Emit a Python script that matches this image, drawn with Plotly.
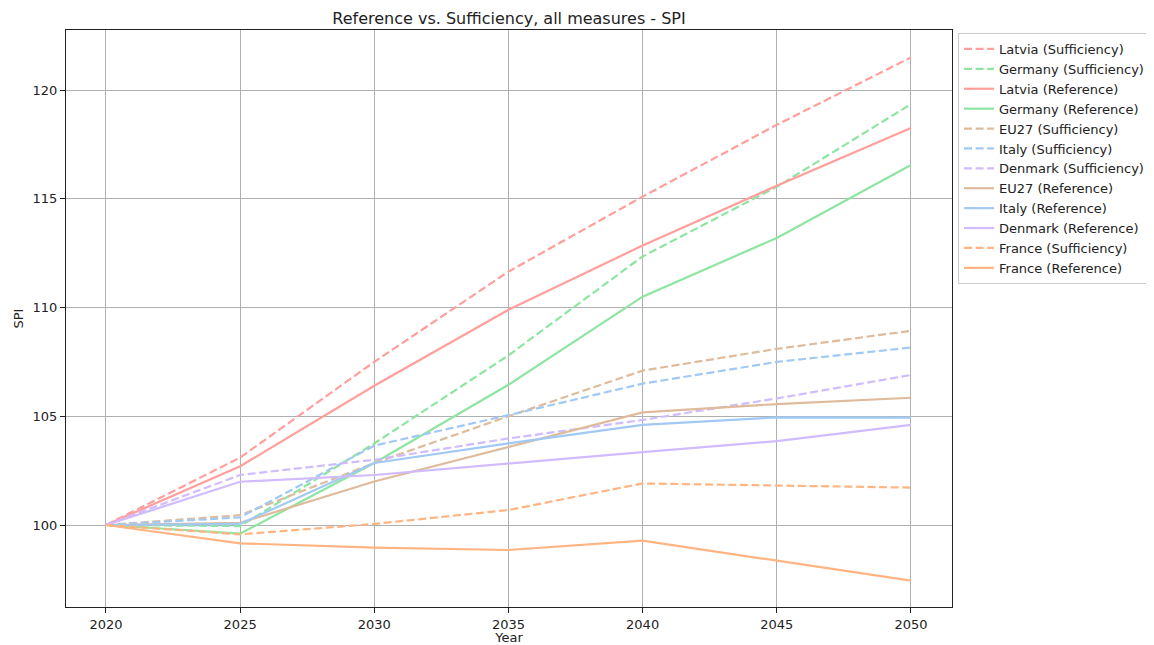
import plotly.graph_objects as go

years = [2020, 2025, 2030, 2035, 2040, 2045, 2050]

latvia_suff = [100, 103.1, 107.5, 111.65, 115.1, 118.4, 121.5]
germany_suff = [100, 99.95, 103.75, 107.8, 112.35, 115.55, 119.35]
latvia_ref = [100, 102.7, 106.4, 109.9, 112.85, 115.6, 118.25]
germany_ref = [100, 99.6, 102.85, 106.45, 110.5, 113.2, 116.55]
eu27_suff = [100, 100.45, 102.85, 105.0, 107.1, 108.1, 108.93]
italy_suff = [100, 100.35, 103.65, 105.05, 106.5, 107.5, 108.16]
denmark_suff = [100, 102.3, 103.0, 103.98, 104.83, 105.82, 106.9]
eu27_ref = [100, 100.1, 102.0, 103.6, 105.18, 105.56, 105.85]
italy_ref = [100, 100.05, 102.85, 103.75, 104.6, 104.95, 104.94]
denmark_ref = [100, 101.99, 102.3, 102.84, 103.35, 103.86, 104.6]
france_suff = [100, 99.57, 100.05, 100.69, 101.91, 101.81, 101.72]
france_ref = [100, 99.16, 98.96, 98.85, 99.28, 98.35, 97.44]

series = [
    ("Latvia (Sufficiency)", latvia_suff, "#ff9f9b", True),
    ("Germany (Sufficiency)", germany_suff, "#8de5a1", True),
    ("Latvia (Reference)", latvia_ref, "#ff9f9b", False),
    ("Germany (Reference)", germany_ref, "#8de5a1", False),
    ("EU27 (Sufficiency)", eu27_suff, "#debb9b", True),
    ("Italy (Sufficiency)", italy_suff, "#a1c9f4", True),
    ("Denmark (Sufficiency)", denmark_suff, "#d0bbff", True),
    ("EU27 (Reference)", eu27_ref, "#debb9b", False),
    ("Italy (Reference)", italy_ref, "#a1c9f4", False),
    ("Denmark (Reference)", denmark_ref, "#d0bbff", False),
    ("France (Sufficiency)", france_suff, "#ffb482", True),
    ("France (Reference)", france_ref, "#ffb482", False),
]

fig = go.Figure()
for name, vals, color, dashed in series:
    fig.add_trace(go.Scatter(
        x=years, y=vals, name=name, mode="lines",
        line=dict(color=color, width=2.2, dash="8px,3.6px" if dashed else "solid"),
    ))

axis_common = dict(
    showline=True, linecolor="#222", linewidth=1, mirror=True,
    ticks="outside", ticklen=5, tickcolor="#222",
    showgrid=True, gridcolor="#b0b0b0", gridwidth=1,
    zeroline=False, tickfont=dict(size=13, color="#222"), automargin=False,
)

W, H = 1146, 637
L, R, T, B = 58, 944, 22, 599

fig.update_layout(
    width=W, height=H,
    paper_bgcolor="white", plot_bgcolor="white",
    font=dict(family="DejaVu Sans", size=13, color="#222"),
    title=dict(text="Reference vs. Sufficiency, all measures - SPI",
               x=(L + R) / 2 / W, xanchor="center", y=1 - 10 / H, yanchor="middle",
               font=dict(size=16)),
    margin=dict(l=L, r=W - R, t=T, b=H - B, pad=0, autoexpand=False),
    xaxis=dict(range=[2018.51, 2051.53], tickvals=[2020, 2025, 2030, 2035, 2040, 2045, 2050],
               title=dict(text="Year", standoff=4, font=dict(size=13)), **axis_common),
    yaxis=dict(range=[96.23, 122.76], tickvals=[100, 105, 110, 115, 120],
               title=dict(text="SPI", standoff=6, font=dict(size=13)), **axis_common),
    legend=dict(x=(950 - L) / (R - L), y=1 - 3 / (B - T), xanchor="left", yanchor="top",
                bordercolor="#cccccc", borderwidth=1, bgcolor="white",
                font=dict(size=13), tracegroupgap=0),
    showlegend=True,
)

fig.write_html("out.html")
